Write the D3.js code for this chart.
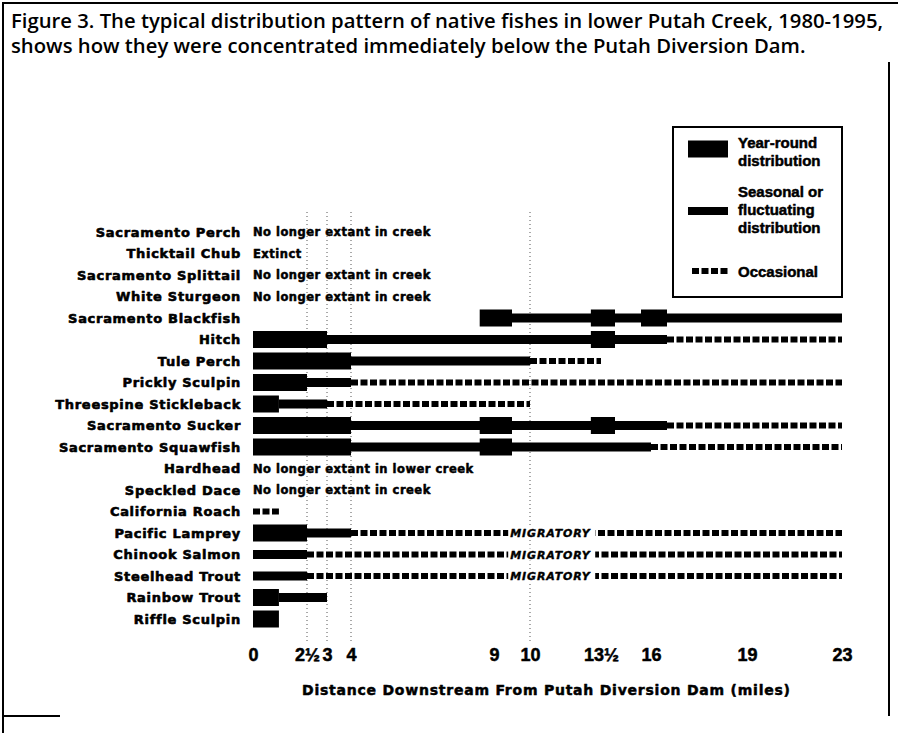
<!DOCTYPE html>
<html><head><meta charset="utf-8">
<script src="https://cdn.jsdelivr.net/npm/d3@7"></script>
<style>body{margin:0;background:#fff}</style>
</head><body>
<svg id="c" width="898" height="733"></svg>
<script>
// ---------- DATA ----------
const species = ["Sacramento Perch","Thicktail Chub","Sacramento Splittail","White Sturgeon",
  "Sacramento Blackfish","Hitch","Tule Perch","Prickly Sculpin","Threespine Stickleback",
  "Sacramento Sucker","Sacramento Squawfish","Hardhead","Speckled Dace","California Roach",
  "Pacific Lamprey","Chinook Salmon","Steelhead Trout","Rainbow Trout","Riffle Sculpin"];

const statusNotes = [
  ["Sacramento Perch","No longer extant in creek"],
  ["Thicktail Chub","Extinct"],
  ["Sacramento Splittail","No longer extant in creek"],
  ["White Sturgeon","No longer extant in creek"],
  ["Hardhead","No longer extant in lower creek"],
  ["Speckled Dace","No longer extant in creek"]];

// [species, from mile, to mile]
const yearRound = [
  ["Sacramento Blackfish",8.5,9.5],["Sacramento Blackfish",13,14.2],["Sacramento Blackfish",15.5,16.5],
  ["Hitch",0,3],["Hitch",13,14.2],
  ["Tule Perch",0,4],
  ["Prickly Sculpin",0,2.5],
  ["Threespine Stickleback",0,1.2],
  ["Sacramento Sucker",0,4],["Sacramento Sucker",8.5,9.5],["Sacramento Sucker",13,14.2],
  ["Sacramento Squawfish",0,4],["Sacramento Squawfish",8.5,9.5],
  ["Pacific Lamprey",0,2.5],
  ["Rainbow Trout",0,1.2],
  ["Riffle Sculpin",0,1.2]];

const seasonal = [
  ["Sacramento Blackfish",9.5,23],
  ["Hitch",3,16.5],
  ["Tule Perch",4,10],
  ["Prickly Sculpin",2.5,4],
  ["Threespine Stickleback",1.2,3],
  ["Sacramento Sucker",4,16.5],
  ["Sacramento Squawfish",4,16],
  ["Pacific Lamprey",2.5,4],
  ["Chinook Salmon",0,2.5],
  ["Steelhead Trout",0,2.5],
  ["Rainbow Trout",1.2,3]];

const occasional = [
  ["Hitch",16.5,23],
  ["Tule Perch",10,13.5],
  ["Prickly Sculpin",4,23],
  ["Threespine Stickleback",3,10],
  ["Sacramento Sucker",16.5,23],
  ["Sacramento Squawfish",16,23],
  ["California Roach",0,1.2],
  ["Pacific Lamprey",4,23],
  ["Chinook Salmon",2.5,23],
  ["Steelhead Trout",2.5,23]];

const migratory = ["Pacific Lamprey","Chinook Salmon","Steelhead Trout"];
const migratoryLabel = "MIGRATORY";
const migratoryMile = 9.45;

const tickValues = [0,2.5,3,4,9,10,13.5,16,19,23];
const tickLabels = ["0","2½","3","4","9","10","13½","16","19","23"];
const gridMiles = [2.5,3,4,10];

const titleLines = [
  "Figure 3. The typical distribution pattern of native fishes in lower Putah Creek, 1980-1995,",
  "shows how they were concentrated immediately below the Putah Diversion Dam."];
const xTitle = "Distance Downstream From Putah Diversion Dam (miles)";
const legendItems = [
  {type:"year", lines:["Year-round","distribution"]},
  {type:"seasonal", lines:["Seasonal or","fluctuating","distribution"]},
  {type:"occasional", lines:["Occasional"]}];

// ---------- CHART ----------
const svg = d3.select("#c");
const black = "#000";

// frame
svg.append("path")
  .attr("d","M3,733 L3,3 L898,3 M889,62 L889,716 M3,716 L60,716")
  .attr("fill","none").attr("stroke",black).attr("stroke-width",2);

// title
const tg = svg.append("g");
const t1 = tg.append("text").attr("x",11).attr("y",28).text(titleLines[0]);
const t2 = tg.append("text").attr("x",11).attr("y",53).text(titleLines[1]);
tg.selectAll("text").attr("font-family","'Open Sans', 'Noto Sans', sans-serif")
  .attr("font-size",19).attr("font-weight",600).attr("fill",black);
const l1 = t1.node().getComputedTextLength();
const ratio = 872 / l1;
t1.attr("textLength",872).attr("lengthAdjust","spacingAndGlyphs");
t2.attr("textLength",t2.node().getComputedTextLength()*ratio).attr("lengthAdjust","spacingAndGlyphs");

// scales
const x = d3.scaleLinear().domain(tickValues).range([253,307,327,351,494,530,601,651,747,842]);
const y = d3.scalePoint().domain(species).range([232,619]);

// gridlines
svg.append("g").selectAll("line").data(gridMiles).join("line")
  .attr("x1",d=>x(d)).attr("x2",d=>x(d)).attr("y1",212).attr("y2",642)
  .attr("stroke","#555").attr("stroke-width",1).attr("stroke-dasharray","1,3");

// heavy text helper
function heavy(sel, sw){
  return sel.attr("fill",black).attr("stroke",black).attr("stroke-width",sw).attr("stroke-linejoin","round");
}

// species labels
heavy(svg.append("g").selectAll("text").data(species).join("text")
  .attr("x",241).attr("y",d=>y(d)+4.6).attr("text-anchor","end")
  .attr("font-family","'DejaVu Sans', sans-serif").attr("font-weight","bold")
  .attr("font-size",13).attr("letter-spacing",0.7)
  .text(d=>d), 0.6);

// status notes
heavy(svg.append("g").selectAll("text").data(statusNotes).join("text")
  .attr("x",x(0)).attr("y",d=>y(d[0])+4.2)
  .attr("font-family","'DejaVu Sans', sans-serif").attr("font-weight","bold")
  .attr("font-size",11.5).attr("letter-spacing",0.5)
  .text(d=>d[1]), 0.5);

// occasional (dashed)
svg.append("g").selectAll("line").data(occasional).join("line")
  .attr("x1",d=>x(d[1])).attr("x2",d=>x(d[2]))
  .attr("y1",d=>y(d[0])).attr("y2",d=>y(d[0]))
  .attr("stroke",black).attr("stroke-width",6).attr("stroke-dasharray","7,2.5");

// seasonal (thin bars)
svg.append("g").selectAll("rect").data(seasonal).join("rect")
  .attr("x",d=>x(d[1])).attr("width",d=>x(d[2])-x(d[1]))
  .attr("y",d=>y(d[0])-4.5).attr("height",9).attr("fill",black);

// year-round (thick bars)
svg.append("g").selectAll("rect").data(yearRound).join("rect")
  .attr("x",d=>x(d[1])).attr("width",d=>x(d[2])-x(d[1]))
  .attr("y",d=>y(d[0])-8.5).attr("height",17).attr("fill",black);

// migratory labels
const mg = svg.append("g").selectAll("g").data(migratory).join("g");
mg.append("rect").attr("x",x(migratoryMile)-2).attr("width",87)
  .attr("y",d=>y(d)-6).attr("height",12).attr("fill","#fff");
heavy(mg.append("text").attr("x",x(migratoryMile)).attr("y",d=>y(d)+4.2)
  .attr("font-family","'DejaVu Sans', sans-serif").attr("font-weight","bold")
  .attr("font-style","italic").attr("font-size",11).attr("letter-spacing",0.9)
  .text(migratoryLabel), 0.4);

// x axis
const axis = d3.axisBottom(x).tickValues(tickValues).tickSize(0)
  .tickFormat((d,i)=>tickLabels[i]);
const ax = svg.append("g").attr("transform","translate(0,645)").call(axis);
ax.select(".domain").remove();
heavy(ax.selectAll("text").attr("font-family","'Liberation Sans', Arial, sans-serif")
  .attr("font-weight","bold").attr("font-size",18).attr("dy","0.71em"), 0.5);

// x title
heavy(svg.append("text").attr("x",546).attr("y",695).attr("text-anchor","middle")
  .attr("font-family","'DejaVu Sans', sans-serif").attr("font-weight","bold")
  .attr("font-size",14).attr("textLength",488).attr("lengthAdjust","spacing")
  .text(xTitle), 0.5);

// legend
const lg = svg.append("g");
lg.append("rect").attr("x",673).attr("y",127).attr("width",169).attr("height",170)
  .attr("fill","#fff").attr("stroke",black).attr("stroke-width",2);
const legY = {year:149, seasonal:211, occasional:271};
const legTextY = {year:142, seasonal:191, occasional:271};
legendItems.forEach(it=>{
  const cy = legY[it.type];
  if(it.type==="year") lg.append("rect").attr("x",688).attr("y",cy-8.5).attr("width",40).attr("height",17).attr("fill",black);
  if(it.type==="seasonal") lg.append("rect").attr("x",688).attr("y",cy-4).attr("width",40).attr("height",8).attr("fill",black);
  if(it.type==="occasional") lg.append("line").attr("x1",692).attr("x2",728).attr("y1",cy).attr("y2",cy)
     .attr("stroke",black).attr("stroke-width",6).attr("stroke-dasharray","7,2.5");
  it.lines.forEach((s,i)=>{
    heavy(lg.append("text").attr("x",738).attr("y",legTextY[it.type]+i*18+5.5)
      .attr("font-family","'Liberation Sans', Arial, sans-serif").attr("font-weight","bold")
      .attr("font-size",15).text(s), 0.5);
  });
});
</script>
</body></html>
